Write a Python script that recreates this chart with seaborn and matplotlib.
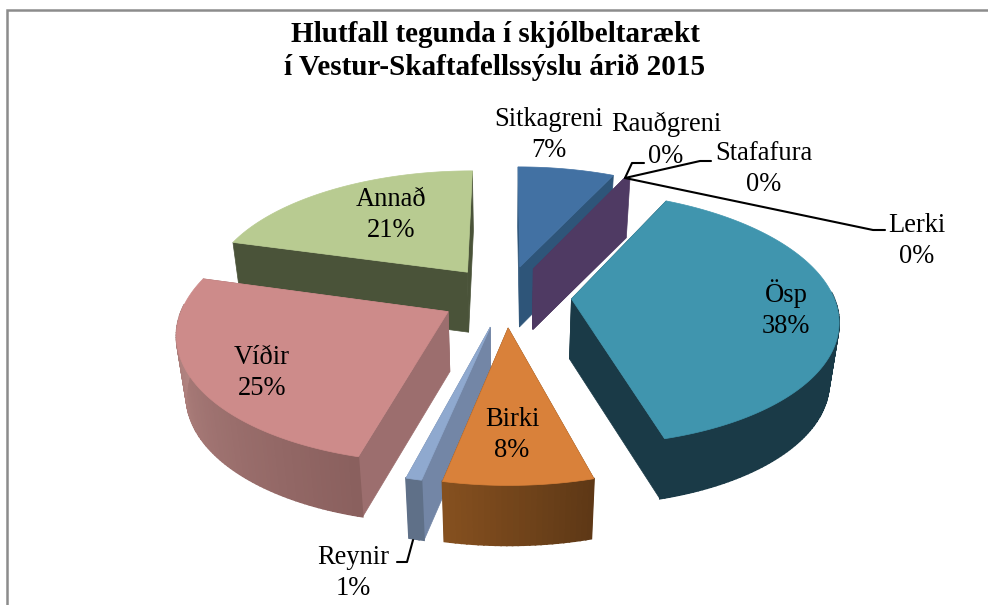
# 3D-looking exploded pie, projected by hand since matplotlib has no 3D pie
import numpy as np
import seaborn as sns
from matplotlib import pyplot as plt

species = ['Sitkagreni', 'Rauðgreni', 'Stafafura', 'Lerki', 'Ösp', 'Birki', 'Reynir', 'Víðir', 'Annað']
shares = [7.0, 0.15, 0.08, 0.07, 38.4, 7.6, 0.8, 25.2, 20.7]
title = 'Hlutfall tegunda í skjólbeltarækt\ní Vestur-Skaftafellssýslu árið 2015'

top_colors = ['#4271a3', '#4f3a63', '#4f3a63', '#4f3a63', '#4095ae', '#d9813a', '#8fa9cf', '#cd8b8a', '#b8cb91']
cut_colors = ['#2e5579', '#4f3a63', '#4f3a63', '#4f3a63', '#1a3a47', '#5e3816', '#7386a6', '#9c6e6e', '#4a5339']
rim_left = ['#2e5579', '#4f3a63', '#4f3a63', '#4f3a63', '#1a3a47', '#85501f', '#5f7088', '#bb8c89', '#4a5339']
rim_right = ['#2e5579', '#4f3a63', '#4f3a63', '#4f3a63', '#1a3a47', '#5e3816', '#5f7088', '#8a605e', '#4a5339']

# back to front
draw_order = [0, 1, 2, 3, 8, 4, 7, 6, 5]

CX, CY, R = 506, 296, 262
TILT, PERSP, EXPLODE, DEPTH, TAPER = 0.47, 0.15, 0.25, 60, 0.97


def project(px, py, low=False):
    f = 1 / (1 - PERSP * py)
    x = R * px * f
    y = CY + R * TILT * py * f
    if low:
        return CX + x * TAPER, y + DEPTH
    return CX + x, y


sns.set_theme(style='white')
plt.rcParams['font.family'] = ['Liberation Serif', 'DejaVu Serif']

fig = plt.figure(figsize=(9.88, 6.05), dpi=100)
ax = fig.add_axes([0, 0, 1, 1])
ax.set_xlim(0, 988)
ax.set_ylim(605, 0)
ax.axis('off')

edges = np.concatenate([[0], np.cumsum(shares)]) / np.sum(shares) * 2 * np.pi

for i in draw_order:
    a0, a1 = edges[i], edges[i + 1]
    mid = (a0 + a1) / 2
    ox, oy = EXPLODE * np.sin(mid), -EXPLODE * np.cos(mid)
    angs = np.linspace(a0, a1, max(4, int(np.degrees(a1 - a0))))
    rx, ry = ox + np.sin(angs), oy - np.cos(angs)

    # cut faces
    for rim_x, rim_y in [(rx[0], ry[0]), (rx[-1], ry[-1])]:
        corners = [project(ox, oy), project(rim_x, rim_y), project(rim_x, rim_y, True), project(ox, oy, True)]
        ax.fill(*zip(*corners), color=cut_colors[i], lw=0.5)

    # outer rim, shaded left to right on screen, only the part facing the viewer
    shades = sns.blend_palette([rim_right[i], rim_left[i]], len(angs) - 1)
    for k in range(len(angs) - 1):
        if np.cos((angs[k] + angs[k + 1]) / 2) > 0.05:
            continue
        strip = [project(rx[k], ry[k]), project(rx[k + 1], ry[k + 1]),
                 project(rx[k + 1], ry[k + 1], True), project(rx[k], ry[k], True)]
        ax.fill(*zip(*strip), color=shades[k], lw=1.2)

    # top face
    outline = [project(ox, oy)] + [project(a, b) for a, b in zip(rx, ry)]
    ax.fill(*zip(*outline), color=top_colors[i], lw=0.5)

# chart frame
ax.plot([7, 7, 988], [605, 10, 10], color='#8c8c8c', lw=1.8, solid_joinstyle='miter')

ax.text(495, 51, title, ha='center', va='center', fontsize=21, fontweight='bold', color='black', linespacing=1.24)

label_xy = [(549, 135), (666, 140), (764, 169), (917, 241), (786, 309), (512, 435), (353, 573), (262, 373), (391, 215)]
for name, share, (x, y) in zip(species, shares, label_xy):
    ax.text(x, y, f'{name}\n{share:.0f}%', ha='center', va='center', fontsize=19.1, color='black', linespacing=1.36)

# leader lines
leaders = [([625, 632, 644], [178, 163, 163]),
           ([625, 700, 711], [178, 161, 161]),
           ([625, 873, 885], [178, 230, 230]),
           ([413, 407, 397], [540, 562, 562])]
for lx, ly in leaders:
    ax.plot(lx, ly, color='black', lw=1.5)

fig.savefig('out.png', dpi=100)
